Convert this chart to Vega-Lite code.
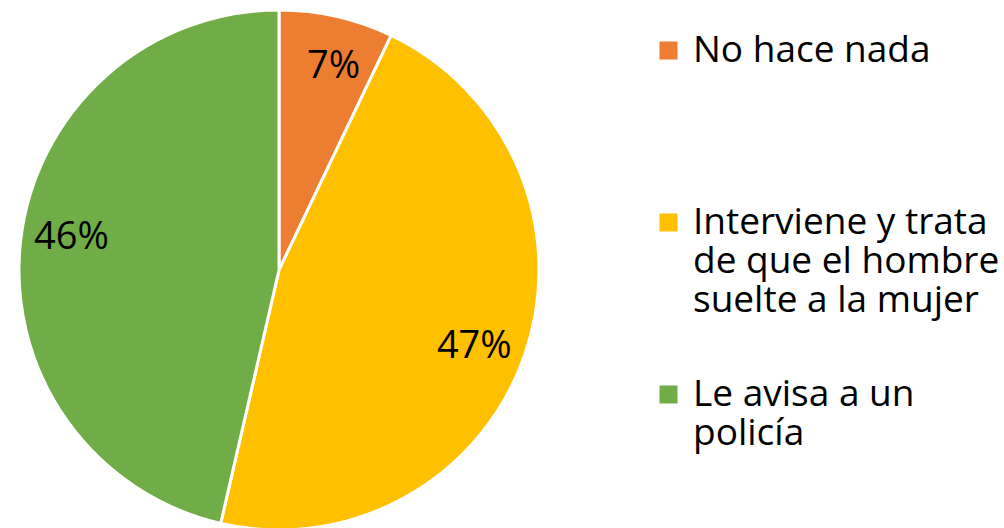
{
  "$schema": "https://vega.github.io/schema/vega-lite/v6.json",
  "autosize": "none",
  "width": 558,
  "height": 540,
  "padding": {"left": 0, "top": 0, "right": 446, "bottom": 0},
  "background": "white",
  "config": {"view": {"stroke": null}},
  "data": {
    "values": [
      {"category": "No hace nada", "value": 7.1, "label": "7%", "ord": 1},
      {"category": "Interviene y trata de que el hombre suelte a la mujer", "value": 46.5, "label": "47%", "ord": 2},
      {"category": "Le avisa a un policía", "value": 46.4, "label": "46%", "ord": 3}
    ]
  },
  "encoding": {
    "theta": {"field": "value", "type": "quantitative", "stack": true},
    "order": {"field": "ord", "type": "quantitative"},
    "color": {
      "field": "category",
      "type": "nominal",
      "scale": {
        "domain": ["No hace nada", "Interviene y trata de que el hombre suelte a la mujer", "Le avisa a un policía"],
        "range": ["#ED7D31", "#FFC000", "#70AD47"]
      },
      "legend": {
        "title": null,
        "orient": "none",
        "legendX": 650,
        "legendY": 32,
        "padding": 0,
        "symbolType": "square",
        "symbolSize": 324,
        "symbolStrokeWidth": 0,
        "labelFont": "Open Sans",
        "labelFontSize": 37,
        "labelColor": "#000000",
        "labelLimit": 0,
        "labelOffset": 6,
        "labelBaseline": "middle",
        "rowPadding": 56,
        "labelExpr": "datum.label == 'No hace nada' ? ['No hace nada', '', ''] : (datum.label == 'Le avisa a un policía' ? ['Le avisa a un', 'policía'] : ['Interviene y trata', 'de que el hombre', 'suelte a la mujer'])"
      }
    }
  },
  "layer": [
    {"mark": {"type": "arc", "radius": 260, "stroke": "white", "strokeWidth": 3}},
    {
      "mark": {"type": "text", "radius": 210, "thetaOffset": 0.04, "font": "Open Sans", "fontSize": 38, "color": "#000000"},
      "encoding": {"text": {"field": "label", "type": "nominal"}, "color": {"value": "#000000"}}
    }
  ]
}
